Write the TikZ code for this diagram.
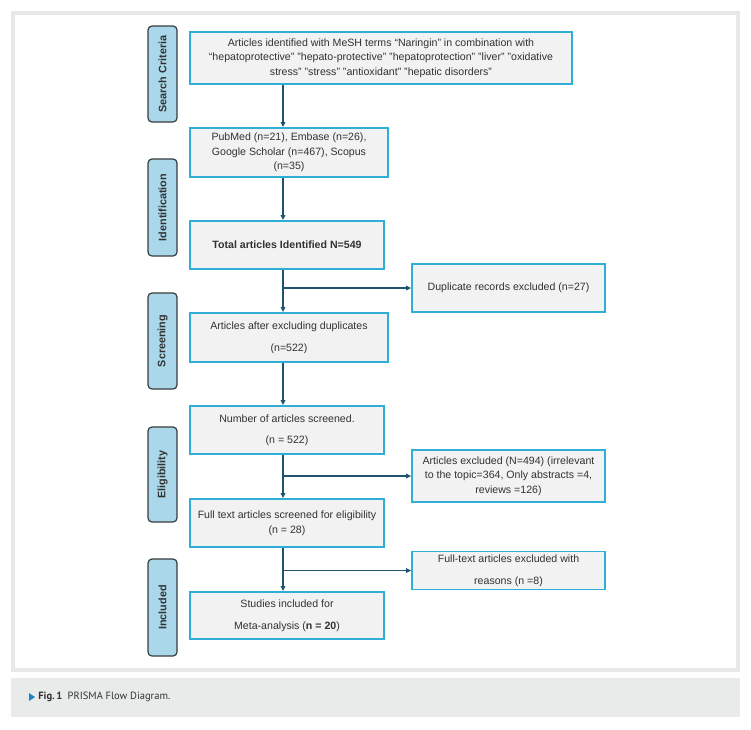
\documentclass[tikz,border=0pt]{standalone}
\usepackage{fontspec}
\setmainfont{Liberation Sans}
\newfontfamily\capfont{PT Sans}
\usetikzlibrary{arrows.meta}
\definecolor{boxline}{RGB}{45,175,215}
\definecolor{boxfill}{RGB}{242,242,242}
\definecolor{sidefill}{RGB}{170,216,234}
\definecolor{sideline}{RGB}{55,60,62}
\definecolor{flow}{RGB}{30,84,108}
\definecolor{txt}{RGB}{50,50,50}
\definecolor{framegray}{RGB}{232,232,232}
\definecolor{capgray}{RGB}{233,234,234}
\definecolor{capblue}{RGB}{30,130,200}

\tikzset{every picture/.style={line width=0.75pt}}

\begin{document}
\begin{tikzpicture}[x=1pt,y=1pt,yscale=-1,
    mainbox/.style={draw=boxline,fill=boxfill,line width=1.8pt,inner sep=2pt,align=center,text=txt,font=\fontsize{10.6}{14.5}\selectfont},
    sidebox/.style={draw=sideline,fill=sidefill,line width=1.2pt,rounded corners=4pt,rotate=90,minimum height=29pt,inner sep=0pt,text=txt,font=\bfseries\fontsize{10.8}{12}\selectfont},
    flowline/.style={draw=flow,line width=1.5pt},
    flowarrow/.style={flowline,-{Triangle[length=5pt,width=4.5pt]}}]
    \useasboundingbox (0,0) rectangle (751,729);

    % Frame
    \fill[framegray] (11,11) rectangle (740,672);
    \fill[white] (15,15) rectangle (736,668);
    \fill[capgray] (11,678) rectangle (740,717);

    % Stage labels
    \node[sidebox,minimum width=96pt] (lsearch) at (162.5,74) {Search Criteria};
    \node[sidebox,minimum width=97pt] (lident) at (162.5,207.5) {Identification};
    \node[sidebox,minimum width=96pt] (lscreen) at (162.5,341) {Screening};
    \node[sidebox,minimum width=95pt] (lelig) at (162.5,474.5) {Eligibility};
    \node[sidebox,minimum width=97pt] (lincl) at (162.5,607.5) {Included};

    % Text Node
    \node[mainbox,minimum width=382pt,minimum height=52pt] (search) at (381,58) {Articles identified with MeSH terms “Naringin” in combination with\\
    “hepatoprotective" "hepato-protective" "hepatoprotection" "liver" "oxidative\\
    stress" "stress" "antioxidant" "hepatic disorders"};
    % Text Node
    \node[mainbox,minimum width=198pt,minimum height=49pt] (sources) at (289,152.5) {PubMed (n=21), Embase (n=26),\\ Google Scholar (n=467), Scopus\\ (n=35)};
    % Text Node
    \node[mainbox,minimum width=194pt,minimum height=48pt] (total) at (287,245) {\textbf{Total articles Identified N=549}};
    % Text Node
    \node[mainbox,minimum width=198pt,minimum height=49pt] (afterdup) at (289,337.5) {Articles after excluding duplicates\\[7pt] (n=522)};
    % Text Node
    \node[mainbox,minimum width=194pt,minimum height=48pt] (screened) at (287,430) {Number of articles screened.\\[7pt] (n = 522)};
    % Text Node
    \node[mainbox,minimum width=194pt,minimum height=48pt] (fulltext) at (287,523) {Full text articles screened for eligibility\\ (n = 28)};
    % Text Node
    \node[mainbox,minimum width=194pt,minimum height=47pt] (included) at (287,615.5) {Studies included for\\[7pt] Meta-analysis (\textbf{n = 20})};

    % Exclusion boxes
    \node[mainbox,minimum width=193pt,minimum height=48pt] (dupl) at (508.5,288) {Duplicate records excluded (n=27)};
    \node[mainbox,minimum width=193pt,minimum height=52pt] (excl) at (508.5,476) {Articles excluded (N=494) (irrelevant\\ to the topic=364, Only abstracts =4,\\ reviews =126)};
    \node[mainbox,minimum width=193pt,minimum height=38pt] (ftexcl) at (508.5,570.5) {Full-text articles excluded with\\[7pt] reasons (n =8)};

    % Connection
    \coordinate (spine) at (283,0);
    \draw[flowarrow] (search.south -| spine) -- (sources.north -| spine);
    \draw[flowarrow] (sources.south -| spine) -- (total.north -| spine);
    \draw[flowarrow] (total.south -| spine) -- (afterdup.north -| spine);
    \draw[flowarrow] (spine |- dupl.west) -- (dupl.west);
    \draw[flowarrow] (afterdup.south -| spine) -- (screened.north -| spine);
    \draw[flowarrow] (screened.south -| spine) -- (fulltext.north -| spine);
    \draw[flowarrow] (spine |- excl.west) -- (excl.west);
    \draw[flowarrow] (fulltext.south -| spine) -- (included.north -| spine);
    \draw[flowarrow] (spine |- ftexcl.west) -- (ftexcl.west);

    % Caption
    \fill[capblue] (29,693) -- (35,697) -- (29,701) -- cycle;
    \node[anchor=west,inner sep=0pt,text=txt,font=\capfont\fontsize{10.5}{12}\selectfont] (caption) at (38,697) {\textbf{Fig.\,1}\enspace PRISMA Flow Diagram.};
\end{tikzpicture}
\end{document}
